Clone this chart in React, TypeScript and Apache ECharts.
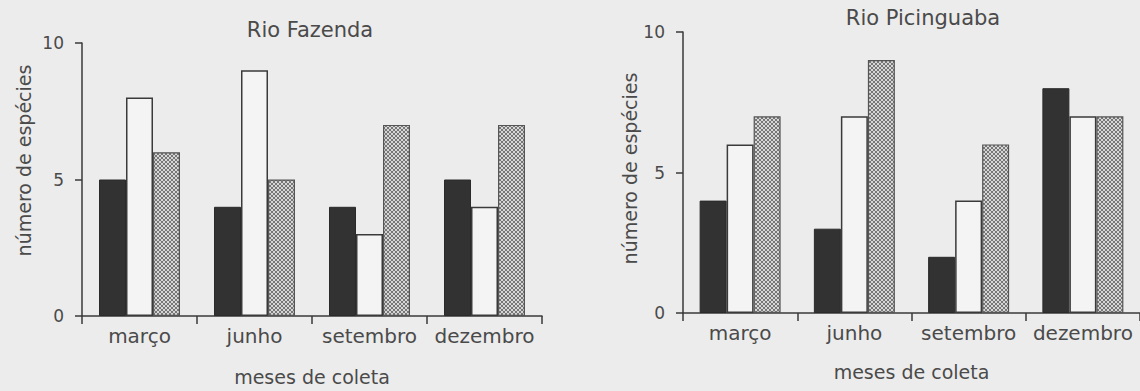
import React, { useEffect, useRef } from "react";
import * as echarts from "echarts";

const categories = ["março", "junho", "setembro", "dezembro"];
const fazendaBlack = [5, 4, 4, 5];
const fazendaWhite = [8, 9, 3, 4];
const fazendaHatched = [6, 5, 7, 7];
const picinguabaBlack = [4, 3, 2, 8];
const picinguabaWhite = [6, 7, 4, 7];
const picinguabaHatched = [7, 9, 6, 7];
const yTicks = [0, 5, 10];

function makeHatch(): any {
  const c = document.createElement("canvas");
  c.width = 4;
  c.height = 4;
  const ctx = c.getContext("2d")!;
  ctx.fillStyle = "#d6d6d6";
  ctx.fillRect(0, 0, 4, 4);
  ctx.fillStyle = "#777777";
  for (let i = 0; i < 4; i++) {
    ctx.fillRect(i, i, 1, 1);
    ctx.fillRect(3 - i, i, 1, 1);
  }
  return { image: c.toDataURL(), repeat: "repeat" };
}

export default function App() {
  const ref = useRef<HTMLDivElement>(null);
  useEffect(() => {
    const chart = echarts.init(ref.current!, undefined, { renderer: "svg" });
    const hatch = makeHatch();
    const font = "DejaVu Sans";
    const txt = "#4a4a4a";
    const axisColor = "#3a3a3a";
    const grids = [
      { left: 82, top: 43, width: 460, height: 281 },
      { left: 683, top: 32, width: 460, height: 281 },
    ];
    const xAxis = [0, 1].map((i) => ({
      type: "category",
      gridIndex: i,
      data: categories,
      axisLine: { show: true, lineStyle: { color: axisColor, width: 1.5 } },
      axisTick: { show: true, length: 8, lineStyle: { color: axisColor, width: 1.5 } },
      axisLabel: { color: txt, fontFamily: font, fontSize: 20, margin: 10, interval: 0 },
      name: "meses de coleta",
      nameLocation: "middle",
      nameGap: i === 0 ? 51 : 49,
      nameTextStyle: { color: txt, fontFamily: font, fontSize: 19 },
    }));
    const yAxis = [0, 1].map((i) => ({
      type: "value",
      gridIndex: i,
      min: yTicks[0],
      max: yTicks[yTicks.length - 1],
      interval: yTicks[1] - yTicks[0],
      splitLine: { show: false },
      axisLine: { show: true, lineStyle: { color: axisColor, width: 1.5 } },
      axisTick: { show: true, length: 7, lineStyle: { color: axisColor, width: 1.5 } },
      axisLabel: { color: txt, fontFamily: font, fontSize: 17, margin: 18 },
      name: "número de espécies",
      nameLocation: "middle",
      nameGap: i === 0 ? 49 : 37,
      nameTextStyle: {
        color: txt,
        fontFamily: font,
        fontSize: 19,
        padding: i === 0 ? [0, 0, 0, 38] : [0, 0, 0, 8],
      },
    }));
    const mk = (name: string, data: number[], idx: number, style: any) => ({
      type: "bar",
      name,
      xAxisIndex: idx,
      yAxisIndex: idx,
      data,
      barWidth: 27,
      barGap: "0%",
      itemStyle: style,
    });
    const blackStyle = { color: "#323232", borderColor: "#2a2a2a", borderWidth: 1 };
    const whiteStyle = { color: "#f4f4f4", borderColor: "#3a3a3a", borderWidth: 1.5 };
    const hatchStyle = { color: hatch, borderColor: "#555", borderWidth: 1.2 };
    chart.setOption({
      animation: false,
      backgroundColor: "#ececec",
      title: [
        {
          text: "Rio Fazenda",
          left: 305,
          top: 14,
          textAlign: "center",
          textStyle: { color: txt, fontFamily: font, fontSize: 21, fontWeight: "normal" },
        },
        {
          text: "Rio Picinguaba",
          left: 918,
          top: 2,
          textAlign: "center",
          textStyle: { color: txt, fontFamily: font, fontSize: 21, fontWeight: "normal" },
        },
      ],
      grid: grids,
      xAxis,
      yAxis,
      series: [
        mk("preto", fazendaBlack, 0, blackStyle),
        mk("branco", fazendaWhite, 0, whiteStyle),
        mk("hachurado", fazendaHatched, 0, hatchStyle),
        mk("preto", picinguabaBlack, 1, blackStyle),
        mk("branco", picinguabaWhite, 1, whiteStyle),
        mk("hachurado", picinguabaHatched, 1, hatchStyle),
      ],
    });
    return () => chart.dispose();
  }, []);
  return (
    <div
      ref={ref}
      style={{ position: "fixed", left: 0, top: 0, width: 1140, height: 391 }}
    />
  );
}
